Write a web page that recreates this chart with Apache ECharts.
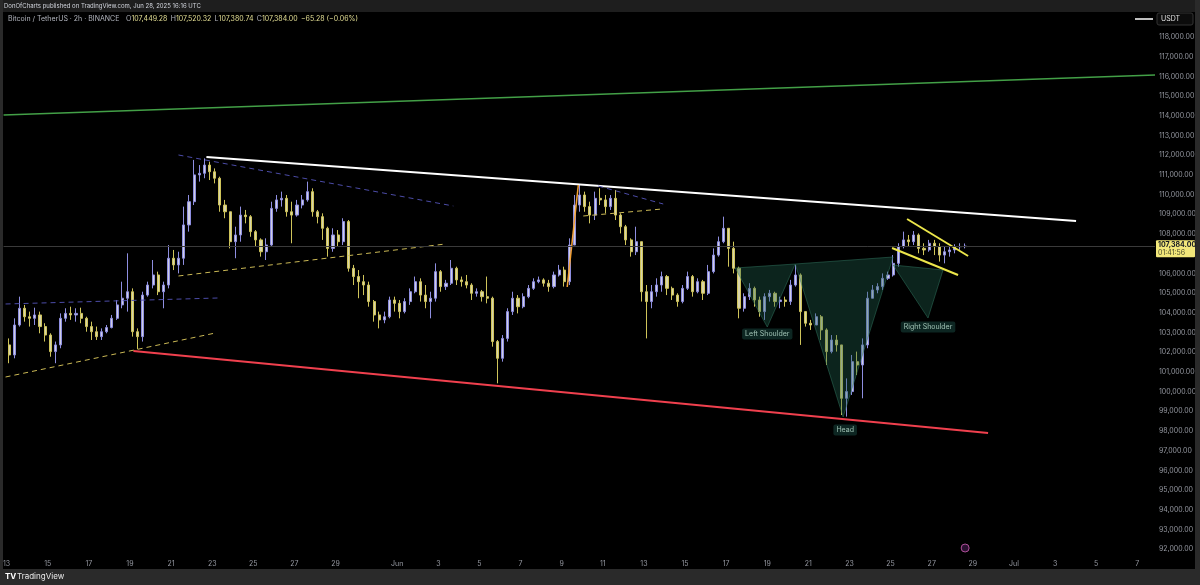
<!DOCTYPE html>
<html><head><meta charset="utf-8">
<script src="https://cdn.jsdelivr.net/npm/echarts@6/dist/echarts.min.js"></script>
<style>html,body{margin:0;padding:0;background:#000;overflow:hidden}#c{width:1200px;height:585px}</style>
</head><body><div id="c"></div>
<script>
// ---- Data (BTC/USDT, aggregated 6h candles; day 0 = May 13 00:00 UTC)
const FIRST_OPEN = 102370;
const CANDLE_STEP = 0.25; // days
const closes = [
101860,103380,104230,103800,103720,103890,103300,102870,102030,102370,
103720,103970,103890,103970,103720,103300,103040,102790,103040,103250,
103720,104400,104740,105070,103040,102790,104900,105410,105920,105070,
105410,106770,106430,106770,108460,109640,111000,111080,111500,111160,
110830,109470,109130,107610,107950,108960,108880,108120,107700,107100,
107440,109300,109730,109810,109130,108960,109470,109730,110150,109130,
108880,108290,107270,107950,107610,108630,106260,105840,105580,105410,
104570,103890,103640,103800,104650,104480,104060,104570,105070,105580,
104900,104570,104740,106090,105330,105500,106260,105670,105580,105410,
104990,105070,104820,104740,102540,101690,102700,104060,104740,104310,
104820,105240,105580,105670,105500,105330,105920,106170,105580,107440,
109470,109980,109390,108960,109810,109730,109390,109810,108960,108370,
107700,107100,107610,105070,104570,105070,105410,105840,105240,104900,
104570,105240,105840,105070,105580,104990,106090,106930,107610,108290,
107270,106260,104230,104820,105240,104650,104060,104820,104990,104570,
104650,104570,105410,105920,104060,103470,103380,103800,103130,102030,
102620,102370,99660,100000,101520,101350,102370,104740,105160,105330,
105750,105920,106510,107360,107700,107610,107950,107270,107190,107530,
107360,106930,107100,107190,107360,107360,107384];
const highs = [
102700,103720,104820,104400,104060,104260,104060,103470,102960,102540,
103970,104230,104310,104230,104260,103800,103550,103300,103210,103380,
103890,104650,105580,107020,105240,103210,105070,105580,106680,106090,
105580,107440,107190,107100,109390,109980,111760,111500,111840,111670,
111330,110910,109730,109130,108370,109390,109220,108960,108200,107780,
107780,109640,109980,110150,109980,109640,109730,109980,110660,110320,
109220,109050,108370,108290,108200,108800,108710,106430,106170,105920,
105580,104650,104060,104060,104820,104820,104650,104740,105240,105840,
105750,105410,105070,106510,106170,105670,106680,106340,105840,105920,
105500,105240,105160,105840,104820,102620,102870,104230,105070,104900,
104990,105410,105750,105840,105750,105670,106090,106430,106340,107780,
109980,110490,110150,109640,110150,110320,109980,109980,110230,109050,
108460,107780,108370,107610,105410,105410,105750,106090,105920,105330,
104990,105410,106090,105920,105750,105670,106430,107270,107870,108880,
108290,107610,106340,104990,105500,105330,104820,104990,105160,105070,
104820,104820,105670,106430,106000,104060,103640,103970,103890,103210,
102870,102870,102370,100670,101860,102030,102700,105070,105410,105500,
106000,106090,106930,107530,108120,107950,108150,108030,107530,107700,
107700,107530,107360,107360,107480,107530,107520];
const lows = [
101440,101690,103300,103550,103300,103380,102960,102540,101770,101440,
102200,103550,103640,103550,103470,103040,102620,102620,102620,102960,
103210,103640,104230,104060,102790,102160,102540,104820,105240,104900,
104230,105240,106170,106000,106430,108120,109470,110660,110830,110740,
110570,109130,108800,107270,106770,107610,108540,107860,107360,106850,
106680,107360,109130,109390,108880,107530,108880,109300,109640,108880,
108540,107700,106850,107100,107360,107440,106090,105410,104740,104900,
104310,103550,103210,103470,103720,104060,103720,103970,104400,104990,
104570,104230,103720,104570,105070,105160,105410,105410,105330,105240,
104650,104820,104570,104480,102280,100420,101520,102540,103890,103970,
104230,104740,105160,105500,105330,105070,105240,105840,105330,105410,
107440,109130,109130,108540,108710,109470,109050,109220,108710,108030,
107440,106850,106930,104570,102700,104230,104820,105070,104900,104650,
104310,104480,105160,104820,104990,104650,104900,106000,106850,107530,
106340,106000,103720,104060,104650,104310,103800,103640,104570,104310,
104230,104310,104400,105330,102370,103300,103130,103380,102620,101350,
101940,102030,98810,98730,99830,100840,99660,102200,104740,104990,
105160,105670,105840,106340,107270,107360,107440,107020,106930,107100,
106930,106600,106510,106850,107020,107190,107270];

// ---- Axis ticks
const tickDays   = [0,2,4,6,8,10,12,14,16,19,21,23,25,27,29,31,33,35,37,39,41,43,45,47,49,51,53,55];
const tickLabels = ['13','15','17','19','21','23','25','27','29','Jun','3','5','7','9','11','13','15','17','19','21','23','25','27','29','Jul','3','5','7'];
const priceTicks = [92000,93000,94000,95000,96000,97000,98000,99000,100000,101000,102000,103000,104000,105000,106000,107000,108000,109000,110000,111000,112000,113000,114000,115000,116000,117000,118000];
const X_MIN = -0.146, X_MAX = 55.86, Y_MIN = 91655, Y_MAX = 119218;
const lastPrice = 107384;

// ---- Drawings (data coordinates: [day, price])
const greenLine   = [[-0.146,114040],[55.86,116071]];
const whiteLine   = [[9.72,111909],[52.02,108660]];
const redLine     = [[6.17,102060],[47.74,97899]];
const blueDash1   = [[8.36,112010],[21.73,109421]];
const blueDash2   = [[-0.05,104447],[10.26,104751]];
const yellowDash1 = [[-0.05,100741],[10.16,102975]];
const yellowDash2 = [[8.36,105868],[21.34,107492]];
const blueDash3   = [[28.78,110436],[31.94,109523]];
const yellowDash3 = [[28.05,108914],[31.89,109269]];
const orangeLine  = [[27.27,105310],[27.81,110487]];
const flagUpper   = [[43.80,108761],[46.77,106883]];
const flagLower   = [[43.07,107289],[46.28,105919]];
const hsTriangles = [
  [[35.44,106274],[37.00,103279],[38.36,106477]],
  [[38.36,106477],[40.69,98711],[43.12,106833]],
  [[43.12,106426],[44.82,103736],[45.55,106173]]
];
const hsLabels = [
  {text:'Left Shoulder', d:37.0, p:102924},
  {text:'Head', d:40.79, p:98051},
  {text:'Right Shoulder', d:44.82, p:103279}
];

const candles = closes.map((c,i)=>{
  const o = i===0 ? FIRST_OPEN : closes[i-1];
  return [i*CANDLE_STEP + CANDLE_STEP/2, o, c, Math.min(lows[i],o,c), Math.max(highs[i],o,c)];
});

function seg(pts, color, width, type){
  return {type:'line', data:pts, symbol:'none', silent:true, z:4,
    lineStyle:{color:color, width:width, type:type||'solid', dashOffset:0}, animation:false};
}
const FONT = 'Inter, "Noto Sans", sans-serif';
const chart = echarts.init(document.getElementById('c'), null, {renderer:'canvas'});
const option = {
  backgroundColor:'#000',
  animation:false,
  grid:{left:3, right:45, top:13, bottom:29, containLabel:false},
  xAxis:{type:'value', min:X_MIN, max:X_MAX,
    axisLine:{show:false}, axisTick:{show:false}, splitLine:{show:false},
    axisLabel:{customValues:tickDays, color:'#9598a1', fontSize:7, fontFamily:FONT, margin:4,
      formatter:(v)=>{const k=tickDays.indexOf(Math.round(v)); return k>=0?tickLabels[k]:'';}}},
  yAxis:{type:'value', position:'right', min:Y_MIN, max:Y_MAX, scale:true,
    axisLine:{show:false}, axisTick:{show:false}, splitLine:{show:false},
    axisLabel:{customValues:priceTicks, color:'#9598a1', fontSize:7, fontFamily:FONT, margin:4,
      formatter:(v)=>v.toLocaleString('en-US',{minimumFractionDigits:2, maximumFractionDigits:2})}},
  series:[
    {type:'candlestick', data:candles, barWidth:2.6, z:2,
      itemStyle:{color:'#cfcfe0', color0:'#d8d4ac', borderColor:'#8e8ee0', borderColor0:'#cfc45a', borderWidth:1},
      markLine:{silent:true, symbol:'none', label:{show:false},
        lineStyle:{color:'#3a3a3a', width:1, type:'solid'}, data:[{yAxis:lastPrice}]}},
    seg(greenLine,'#43a047',1.5),
    seg(whiteLine,'#ffffff',2),
    seg(redLine,'#f0404e',2),
    seg(blueDash1,'#4c4ca8',1,[5,4]),
    seg(blueDash2,'#4c4ca8',1,[5,4]),
    seg(yellowDash1,'#cbb955',1,[5,4]),
    seg(yellowDash2,'#cbb955',1,[5,4]),
    seg(blueDash3,'#4c4ca8',1,[5,4]),
    seg(yellowDash3,'#cbb955',1,[5,4]),
    seg(orangeLine,'#f2a033',1.5),
    seg(flagUpper,'#ece64a',2),
    seg(flagLower,'#ece64a',2),
    {type:'custom', silent:true, z:3,
      data:hsTriangles.map(t=>[t[0][0],t[0][1]]),
      renderItem:(params, api)=>{
        const t = hsTriangles[params.dataIndex];
        return {type:'polygon', shape:{points:t.map(p=>api.coord(p))},
          style:{fill:'rgba(32,100,80,0.36)', stroke:'rgba(50,120,98,0.5)', lineWidth:1}};
      }},
    {type:'scatter', silent:true, z:5, symbolSize:1, itemStyle:{color:'rgba(0,0,0,0)'},
      data:hsLabels.map(l=>({name:l.text, value:[l.d,l.p]})),
      label:{show:true, position:'inside', formatter:'{b}', color:'#bfe3d3', fontSize:7, fontFamily:FONT,
        backgroundColor:'#10302a', padding:[2,3,2,3], borderRadius:2}}
  ]
};
chart.setOption(option);

const yLast = chart.convertToPixel({yAxisIndex:0}, lastPrice);
const xLast = chart.convertToPixel({xAxisIndex:0}, candles[candles.length-1][0]);
chart.setOption({graphic:[
  {type:'rect', shape:{x:0,y:0,width:1200,height:12}, style:{fill:'#1e1e1e'}, z:100},
  {type:'rect', shape:{x:0,y:569,width:1200,height:16}, style:{fill:'#2a2a2a'}, z:100},
  {type:'rect', shape:{x:0,y:0,width:3,height:585}, style:{fill:'#2a2a2a'}, z:100},
  {type:'rect', shape:{x:1195,y:0,width:5,height:585}, style:{fill:'#2a2a2a'}, z:100},
  {type:'text', x:4, y:6, style:{text:'DonOfCharts published on TradingView.com, Jun 28, 2025 16:16 UTC',
    fill:'#d1d4dc', font:'6px '+FONT, verticalAlign:'middle'}, z:101},
  {type:'text', x:8, y:19, style:{
    text:'{g|Bitcoin / TetherUS · 2h · BINANCE}  {g|O}{v|107,449.28} {g|H}{v|107,520.32} {g|L}{v|107,380.74} {g|C}{v|107,384.00} {v|−65.28 (−0.06%)}',
    verticalAlign:'middle', rich:{g:{fill:'#b2b5be', font:'7px '+FONT}, v:{fill:'#e4df94', font:'7px '+FONT}}}, z:101},
  {type:'line', shape:{x1:1135,y1:19,x2:1153,y2:19}, style:{stroke:'#ffffff', lineWidth:1.5}, z:101},
  {type:'rect', shape:{x:1157,y:13,width:36,height:12, r:2}, style:{fill:'#0c0c0c', stroke:'#333'}, z:101},
  {type:'text', x:1161, y:19, style:{text:'USDT', fill:'#e0e0e0', font:'7px '+FONT, verticalAlign:'middle'}, z:102},
  {type:'rect', shape:{x:1156,y:yLast-6,width:39,height:17, r:1}, style:{fill:'#f2e77a'}, z:101},
  {type:'text', x:1158, y:yLast-1.5, style:{text:'107,384.00', fill:'#131722', font:'bold 7px '+FONT, verticalAlign:'middle'}, z:102},
  {type:'text', x:1158, y:yLast+6.5, style:{text:'01:41:56', fill:'#4a4a2a', font:'7px '+FONT, verticalAlign:'middle'}, z:102},
  {type:'circle', shape:{cx:xLast, cy:548, r:4}, style:{fill:'#2a1030', stroke:'#b0509a', lineWidth:1}, z:101},
  {type:'text', x:5, y:577, style:{text:'TV', fill:'#ffffff', font:'bold 8px '+FONT, verticalAlign:'middle'}, z:101},
  {type:'text', x:17, y:577, style:{text:'TradingView', fill:'#e8e8e8', font:'8px '+FONT, verticalAlign:'middle'}, z:101}
]});
</script></body></html>
